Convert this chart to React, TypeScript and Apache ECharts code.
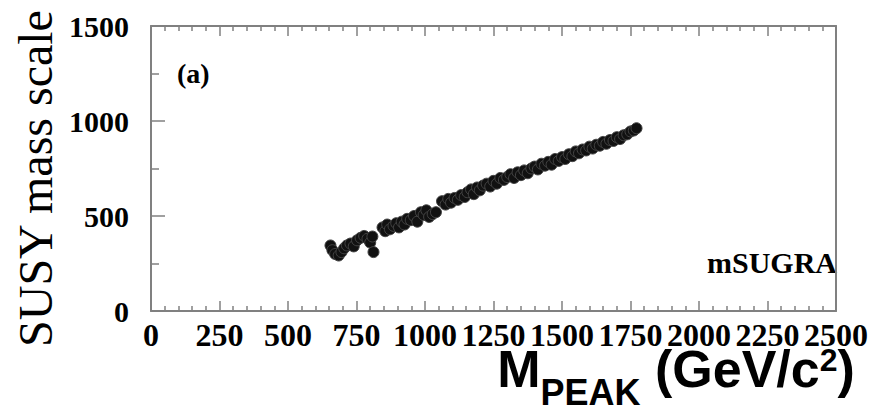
import React, { useEffect, useRef } from "react";
import * as echarts from "echarts";

const xTicks = [0, 2500, 250];
const yTicks = [0, 1500, 500];

const clusterA: number[][] = [
  [655, 345], [662, 320], [672, 300], [685, 292], [695, 310], [705, 330], [715, 345],
  [728, 355], [740, 340], [752, 372], [765, 385], [778, 395], [790, 380], [800, 360],
  [808, 392], [812, 310],
];
const clusterB: number[][] = [
  [845, 440], [855, 420], [862, 455], [872, 430], [885, 448], [895, 462], [905, 440],
  [915, 470], [925, 455], [935, 485], [948, 478], [960, 500], [972, 470], [985, 520],
  [995, 505], [1005, 530], [1015, 495], [1028, 510], [1040, 520],
];
const clusterC: number[][] = [
  [1062, 578], [1075, 560], [1085, 590], [1095, 570], [1108, 595], [1120, 585], [1132, 610],
  [1145, 600], [1155, 625], [1168, 640], [1178, 615], [1190, 650], [1200, 635], [1212, 660],
  [1225, 670], [1238, 655], [1250, 685], [1262, 670], [1275, 700], [1288, 690], [1300, 705],
  [1312, 720], [1325, 700], [1338, 730], [1350, 715], [1362, 740], [1375, 725], [1388, 750],
  [1400, 760], [1412, 745], [1425, 775], [1438, 765], [1450, 785], [1462, 770], [1475, 800],
  [1488, 790], [1500, 810], [1512, 800], [1525, 825], [1538, 815], [1550, 840], [1562, 830],
  [1575, 850], [1588, 845], [1600, 865], [1612, 855], [1625, 875], [1638, 870], [1650, 890],
  [1662, 880], [1675, 900], [1688, 895], [1700, 915], [1712, 905], [1725, 925], [1738, 930],
  [1750, 945], [1762, 950], [1772, 962],
];

const FRAME = "#808080";
const SERIF = "'Liberation Serif', 'Times New Roman', serif";
const SANS = "'Liberation Sans', Arial, sans-serif";

export default function App() {
  const ref = useRef<HTMLDivElement>(null);
  useEffect(() => {
    if (!ref.current) return;
    const chart = echarts.init(ref.current, null, { renderer: "svg" });
    const axisLine = { show: true, onZero: false, lineStyle: { color: FRAME, width: 2 } };
    const plain = (v: number) => String(v);
    const nameRich = {
      m: { fontSize: 52, fontWeight: "bold", fontFamily: SANS, color: "#000", verticalAlign: "middle" },
      s: { fontSize: 36, fontWeight: "bold", fontFamily: SANS, color: "#000", verticalAlign: "middle", padding: [46, 0, 0, 0] },
      p: { fontSize: 32, fontWeight: "bold", fontFamily: SANS, color: "#000", verticalAlign: "middle", padding: [0, 0, 18, 0] },
    };
    chart.setOption({
      animation: false,
      backgroundColor: "#fff",
      grid: { left: 151, right: 44, top: 26, bottom: 101, containLabel: false, outerBoundsMode: "none" },
      xAxis: [
        {
          type: "value", position: "bottom", min: xTicks[0], max: xTicks[1], interval: xTicks[2],
          axisLine, splitLine: { show: false },
          axisTick: { show: true, inside: true, length: 10, lineStyle: { color: FRAME, width: 1.5 } },
          minorTick: { show: true, splitNumber: 5, length: 5, lineStyle: { color: FRAME, width: 1.5 } },
          axisLabel: { margin: 8, fontSize: 32, fontWeight: "bold", fontFamily: SERIF, color: "#000", formatter: plain, hideOverlap: false },
          name: "{m|M}{s|PEAK}{m| (GeV/c}{p|2}{m|)}",
          nameLocation: "middle", nameGap: 17, nameMoveOverlap: false,
          nameTextStyle: { padding: [0, 0, 0, 365], rich: nameRich },
        },
        {
          type: "value", position: "top", min: xTicks[0], max: xTicks[1], interval: xTicks[2],
          axisLine, splitLine: { show: false },
          axisTick: { show: true, inside: true, length: 10, lineStyle: { color: FRAME, width: 1.5 } },
          minorTick: { show: true, splitNumber: 5, length: 5, lineStyle: { color: FRAME, width: 1.5 } },
          axisLabel: { show: false },
        },
      ],
      yAxis: [
        {
          type: "value", position: "left", min: yTicks[0], max: yTicks[1], interval: yTicks[2],
          axisLine, splitLine: { show: false },
          axisTick: { show: true, inside: true, length: 14, lineStyle: { color: FRAME, width: 1.5 } },
          minorTick: { show: true, splitNumber: 2, length: 8, lineStyle: { color: FRAME, width: 1.5 } },
          axisLabel: { margin: 22, fontSize: 30, fontWeight: "bold", fontFamily: SERIF, color: "#000", formatter: plain },
          name: "SUSY mass scale",
          nameLocation: "middle", nameGap: 92, nameRotate: 90, nameMoveOverlap: false,
          nameTextStyle: { fontSize: 48, fontFamily: SERIF, color: "#000", padding: [0, 20, 0, 0] },
        },
        {
          type: "value", position: "right", min: yTicks[0], max: yTicks[1], interval: yTicks[2],
          axisLine, splitLine: { show: false },
          axisTick: { show: false }, axisLabel: { show: false },
        },
      ],
      graphic: [
        {
          type: "text", left: 177, top: 59,
          style: { text: "(a)", fontSize: 28, fontWeight: "bold", fontFamily: SERIF, fill: "#000" },
        },
        {
          type: "text", right: 43, top: 247,
          style: { text: "mSUGRA", fontSize: 30, fontWeight: "bold", fontFamily: SERIF, fill: "#000" },
        },
      ],
      series: [
        {
          type: "scatter", xAxisIndex: 0, yAxisIndex: 0,
          data: [...clusterA, ...clusterB, ...clusterC],
          symbol: "circle", symbolSize: 11,
          itemStyle: { color: "#111", borderColor: "#444", borderWidth: 1, opacity: 1 },
        },
      ],
    });
    return () => chart.dispose();
  }, []);
  return <div ref={ref} style={{ width: 880, height: 412, position: "absolute", left: 0, top: 0 }} />;
}
